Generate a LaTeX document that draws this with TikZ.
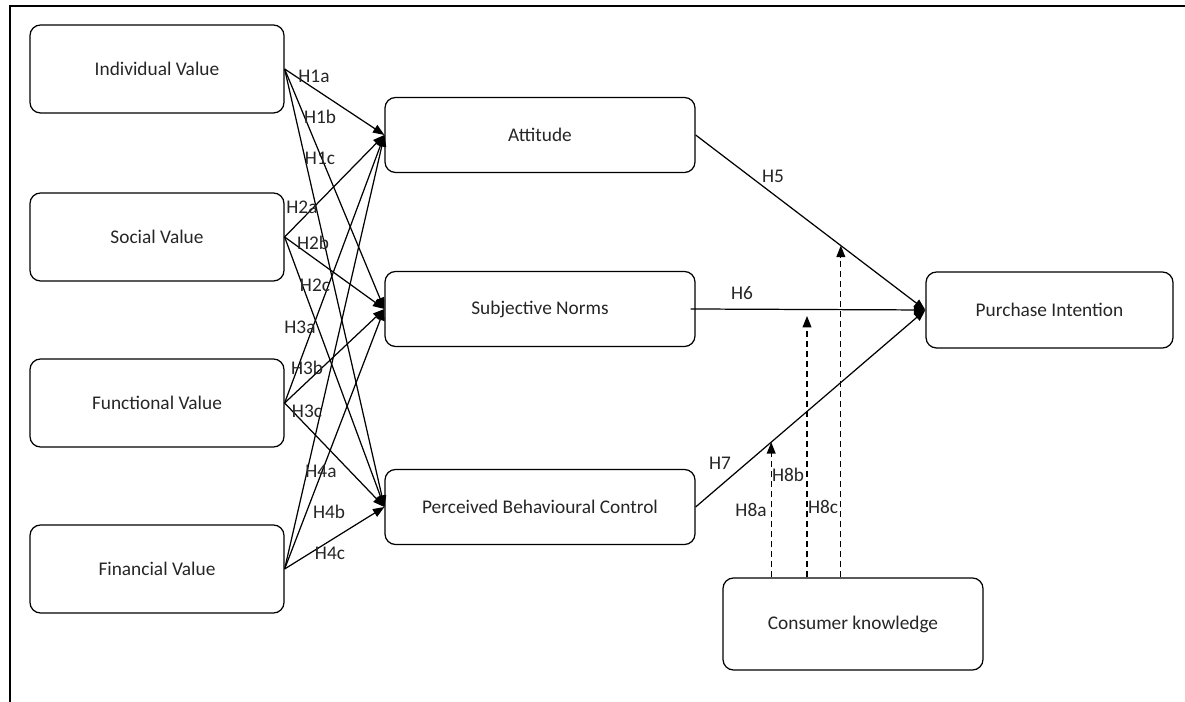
\documentclass[tikz,border=0pt]{standalone}
\usepackage{fontspec}
\setmainfont{Carlito}
\usetikzlibrary{arrows.meta,calc}
\begin{document}
\begin{tikzpicture}[line width=0.7pt,
  valbox/.style={draw, rounded corners=6pt, minimum width=5.08cm, minimum height=1.76cm, inner sep=0pt, font=\fontsize{11}{13}\selectfont, text=black!85},
  midbox/.style={valbox, minimum width=6.20cm, minimum height=1.50cm},
  hyp/.style={font=\fontsize{11}{13}\selectfont, text=black!85, inner sep=0.5pt},
  link/.style={-{Triangle[length=6.5pt,width=5pt]}},
  modlink/.style={link, dash pattern=on 3.4pt off 2.3pt}]
  \useasboundingbox (0.000,0.000) rectangle (23.700,14.040);
  \draw[line width=1.2pt] (0.200,0.000) -- (0.200,13.920) -- (23.700,13.920);
  \node[valbox] (indiv) at (3.140,12.660) {Individual Value};
  \node[valbox] (social) at (3.140,9.300) {Social Value};
  \node[valbox] (func) at (3.140,5.980) {Functional Value};
  \node[valbox] (fin) at (3.140,2.660) {Financial Value};
  \node[midbox] (att) at (10.800,11.340) {Attitude};
  \node[midbox] (norms) at (10.800,7.860) {Subjective Norms};
  \node[midbox] (pbc) at (10.800,3.900) {Perceived Behavioural Control};
  \node[midbox, minimum width=4.94cm, minimum height=1.52cm] (pi) at (20.990,7.840) {Purchase Intention};
  \node[midbox, minimum width=5.20cm, minimum height=1.84cm] (ck) at (17.060,1.560) {Consumer knowledge};
  \draw[link] (indiv.east) -- (att.west);
  \draw[link] (indiv.east) -- (norms.west);
  \draw[link] (indiv.east) -- (pbc.west);
  \draw[link] (social.east) -- (att.west);
  \draw[link] (social.east) -- (norms.west);
  \draw[link] (social.east) -- (pbc.west);
  \draw[link] (func.east) -- (att.west);
  \draw[link] (func.east) -- (norms.west);
  \draw[link] (func.east) -- (pbc.west);
  \draw[link] (fin.east) -- (att.west);
  \draw[link] (fin.east) -- (norms.west);
  \draw[link] (fin.east) -- (pbc.west);
  \draw[link] (att.east) -- (pi.west);
  \draw[link] ([xshift=-0.1cm]norms.east) -- (pi.west);
  \draw[link] (pbc.east) -- (pi.west);
  \coordinate (m7) at ($(pbc.east)!0.329!(pi.west)$);
  \coordinate (m6) at (16.140,7.720);
  \coordinate (m5) at ($(att.east)!0.632!(pi.west)$);
  \draw[modlink] (ck.north -| m7) -- (m7);
  \draw[modlink] (ck.north -| m6) -- (m6);
  \draw[modlink] (ck.north -| m5) -- (m5);
  \node[hyp] at (6.280,12.520) {H1a};
  \node[hyp] at (6.400,11.700) {H1b};
  \node[hyp] at (6.400,10.880) {H1c};
  \node[hyp] at (6.040,9.900) {H2a};
  \node[hyp] at (6.260,9.180) {H2b};
  \node[hyp] at (6.300,8.340) {H2c};
  \node[hyp] at (6.000,7.500) {H3a};
  \node[hyp] at (6.140,6.680) {H3b};
  \node[hyp] at (6.140,5.820) {H3c};
  \node[hyp] at (6.420,4.620) {H4a};
  \node[hyp] at (6.580,3.800) {H4b};
  \node[hyp] at (6.600,2.980) {H4c};
  \node[hyp] at (15.460,10.520) {H5};
  \node[hyp] at (14.840,8.180) {H6};
  \node[hyp] at (14.400,4.780) {H7};
  \node[hyp] at (15.020,3.840) {H8a};
  \node[hyp] at (15.760,4.540) {H8b};
  \node[hyp] at (16.460,3.900) {H8c};
\end{tikzpicture}
\end{document}
